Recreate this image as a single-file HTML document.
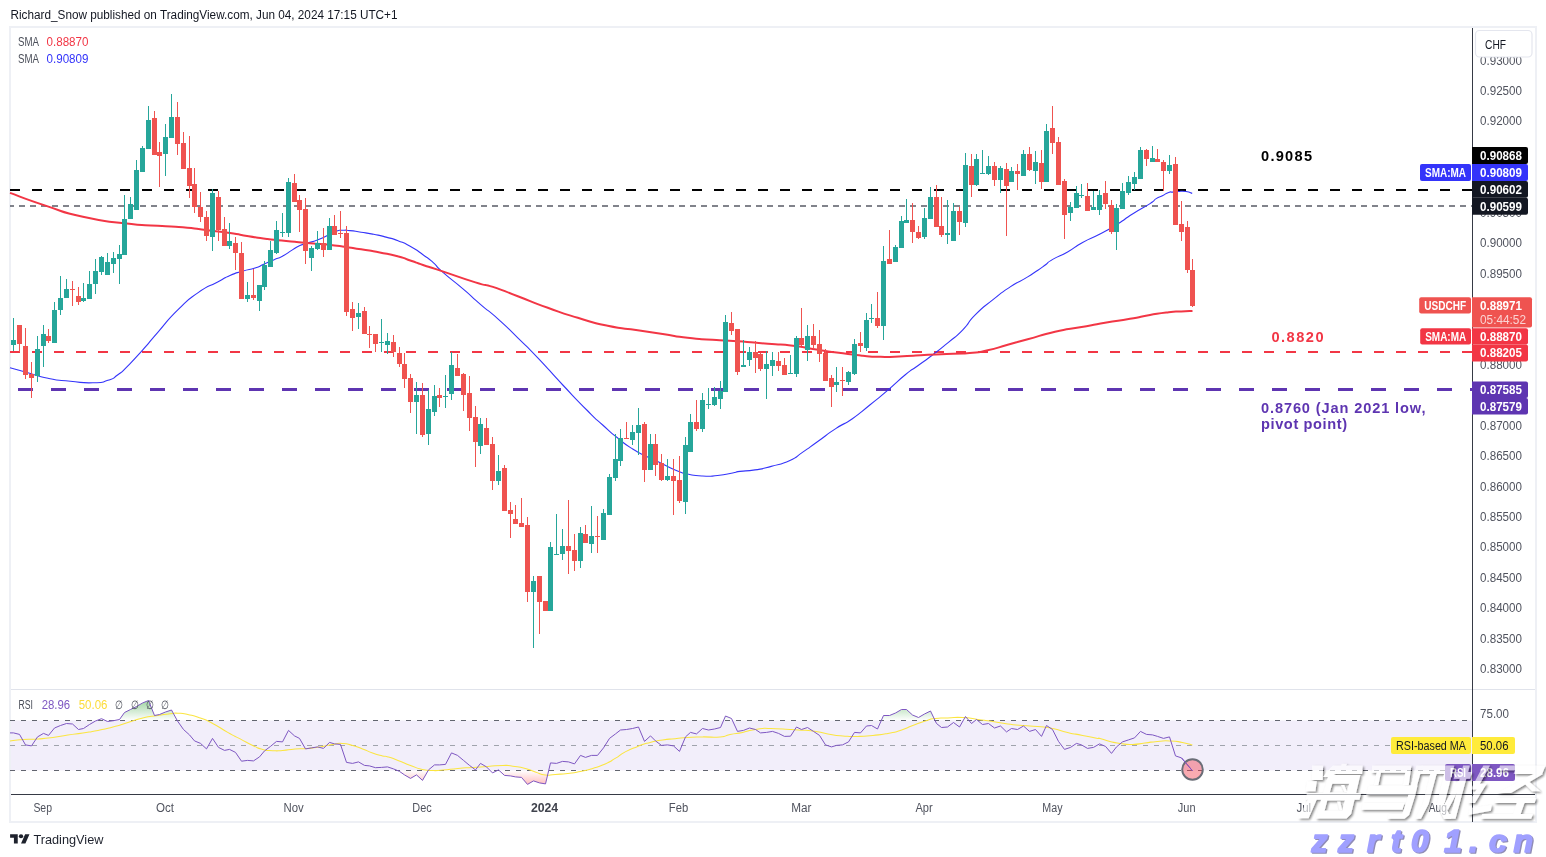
<!DOCTYPE html>
<html><head><meta charset="utf-8"><title>USDCHF</title>
<style>
html,body{margin:0;padding:0;background:#fff;}
body{width:1546px;height:857px;overflow:hidden;position:relative;font-family:"Liberation Sans",sans-serif;}
svg{position:absolute;left:0;top:0;display:block;will-change:transform;opacity:0.999}
text{font-family:"Liberation Sans",sans-serif;}
.ax{font-size:12px;fill:#50535e}
.lb{font-size:12px;fill:#fff;font-weight:bold}
</style></head><body>
<svg width="1546" height="857" viewBox="0 0 1546 857">
<defs>
<linearGradient id="gg" gradientUnits="userSpaceOnUse" x1="0" y1="683" x2="0" y2="720.5"><stop offset="0" stop-color="#4caf50" stop-opacity="1"/><stop offset="1" stop-color="#4caf50" stop-opacity="0"/></linearGradient>
<linearGradient id="rg" gradientUnits="userSpaceOnUse" x1="0" y1="770.4" x2="0" y2="807.8"><stop offset="0" stop-color="#ff5252" stop-opacity="0"/><stop offset="1" stop-color="#ff5252" stop-opacity="1"/></linearGradient>
<clipPath id="cpTop"><rect x="10" y="690" width="1462" height="30.5"/></clipPath>
<clipPath id="cpBot"><rect x="10" y="770.4" width="1462" height="24"/></clipPath>
<clipPath id="cpMain"><rect x="11" y="28" width="1461" height="661"/></clipPath>
</defs>

<text x="10.5" y="19.2" font-size="12" fill="#131722" textLength="387" lengthAdjust="spacingAndGlyphs">Richard_Snow published on TradingView.com, Jun 04, 2024 17:15 UTC+1</text>
<rect x="10" y="27" width="1526" height="795" fill="#fff" stroke="#eef0f5" stroke-width="2"/>
<rect x="11" y="689" width="1524" height="1" fill="#e0e3eb"/>
<rect x="11" y="720.5" width="1461" height="49.9" fill="#f2eefa"/>
<g shape-rendering="crispEdges">
<line x1="10" y1="720.5" x2="1472" y2="720.5" stroke="#62656f" stroke-width="1" stroke-dasharray="5 6"/>
<line x1="10" y1="745.5" x2="1472" y2="745.5" stroke="#a0a3ac" stroke-width="1" stroke-dasharray="5 6"/>
<line x1="10" y1="770.5" x2="1472" y2="770.5" stroke="#62656f" stroke-width="1" stroke-dasharray="5 6"/>
</g>
<polygon clip-path="url(#cpTop)" points="10,720.5 10.0,732.9 13.5,732.9 19.5,734.4 25.5,744.9 31.5,745.9 37.5,736.9 43.5,733.4 48.5,735.4 54.5,728.0 60.5,725.5 66.5,723.5 72.5,724.0 78.5,729.5 83.5,728.5 89.5,724.5 95.5,721.0 101.5,718.7 107.5,721.5 113.5,720.7 119.5,719.5 124.5,712.5 130.5,709.5 136.5,706.5 142.5,703.0 148.5,700.5 154.5,715.5 159.5,714.5 165.5,712.0 171.5,710.0 177.5,721.0 183.5,729.5 189.5,734.9 194.5,740.9 200.5,743.4 206.5,748.9 212.5,738.4 218.5,747.4 224.5,750.4 229.5,749.4 235.5,752.4 241.5,761.2 247.5,760.4 253.5,760.9 259.5,756.9 264.5,750.9 270.5,746.4 276.5,741.4 282.5,741.9 288.5,730.4 294.5,735.9 299.5,738.4 305.5,748.9 311.5,747.9 317.5,746.9 323.5,748.4 329.5,742.4 334.5,743.9 340.5,744.4 346.5,762.4 352.5,763.4 358.5,761.9 364.5,765.4 369.5,765.9 375.5,767.7 381.5,767.4 387.5,766.9 393.5,768.9 399.5,771.4 404.5,774.9 410.5,778.4 416.5,774.9 422.5,780.4 428.5,769.9 434.5,764.9 439.5,764.9 445.5,764.4 451.5,752.9 457.5,755.4 463.5,760.4 469.5,765.4 475.5,769.9 480.5,763.4 486.5,766.9 492.5,772.9 498.5,769.9 504.5,775.4 510.5,775.9 515.5,776.9 521.5,777.4 527.5,784.4 533.5,780.9 539.5,782.9 545.5,783.9 550.5,762.9 556.5,763.4 562.5,761.4 568.5,761.9 574.5,763.9 580.5,755.4 585.5,757.4 591.5,755.4 597.5,755.4 603.5,747.9 609.5,738.4 615.5,733.9 620.5,730.0 626.5,729.5 632.5,728.5 638.5,727.0 644.5,741.4 650.5,735.9 655.5,740.9 661.5,745.4 667.5,744.9 673.5,745.9 679.5,751.4 685.5,736.9 690.5,732.4 696.5,733.9 702.5,728.5 708.5,730.0 714.5,729.0 720.5,727.5 725.5,716.0 731.5,718.5 737.5,731.4 743.5,730.4 749.5,728.0 755.5,729.5 760.5,732.9 766.5,732.4 772.5,731.4 778.5,733.4 784.5,736.4 790.5,736.2 796.5,727.0 801.5,729.5 807.5,727.5 813.5,731.4 819.5,735.4 825.5,744.9 831.5,746.9 836.5,745.4 842.5,744.9 848.5,741.9 854.5,732.4 860.5,732.9 866.5,726.0 871.5,725.5 877.5,729.0 883.5,715.5 889.5,715.5 895.5,713.0 901.5,709.5 906.5,709.5 912.5,715.0 918.5,717.5 924.5,714.0 930.5,711.0 936.5,723.5 941.5,727.5 947.5,727.0 953.5,722.5 959.5,727.0 965.5,716.5 971.5,723.5 976.5,719.5 982.5,724.5 988.5,723.5 994.5,728.0 1000.5,726.0 1006.5,731.9 1011.5,728.5 1017.5,729.5 1023.5,726.0 1029.5,731.4 1035.5,729.5 1041.5,736.4 1046.5,725.5 1052.5,729.5 1058.5,741.4 1064.5,749.4 1070.5,747.4 1076.5,743.4 1081.5,744.9 1087.5,748.4 1093.5,747.4 1099.5,743.9 1105.5,746.4 1111.5,753.4 1116.5,746.9 1122.5,741.9 1128.5,739.9 1134.5,737.9 1140.5,731.4 1146.5,734.4 1152.5,734.9 1157.5,736.4 1163.5,738.4 1169.5,736.9 1175.5,755.9 1181.5,757.9 1187.5,764.9 1192.5,770.9 1192.5,720.5" fill="url(#gg)"/>
<polygon clip-path="url(#cpBot)" points="10,770.4 10.0,732.9 13.5,732.9 19.5,734.4 25.5,744.9 31.5,745.9 37.5,736.9 43.5,733.4 48.5,735.4 54.5,728.0 60.5,725.5 66.5,723.5 72.5,724.0 78.5,729.5 83.5,728.5 89.5,724.5 95.5,721.0 101.5,718.7 107.5,721.5 113.5,720.7 119.5,719.5 124.5,712.5 130.5,709.5 136.5,706.5 142.5,703.0 148.5,700.5 154.5,715.5 159.5,714.5 165.5,712.0 171.5,710.0 177.5,721.0 183.5,729.5 189.5,734.9 194.5,740.9 200.5,743.4 206.5,748.9 212.5,738.4 218.5,747.4 224.5,750.4 229.5,749.4 235.5,752.4 241.5,761.2 247.5,760.4 253.5,760.9 259.5,756.9 264.5,750.9 270.5,746.4 276.5,741.4 282.5,741.9 288.5,730.4 294.5,735.9 299.5,738.4 305.5,748.9 311.5,747.9 317.5,746.9 323.5,748.4 329.5,742.4 334.5,743.9 340.5,744.4 346.5,762.4 352.5,763.4 358.5,761.9 364.5,765.4 369.5,765.9 375.5,767.7 381.5,767.4 387.5,766.9 393.5,768.9 399.5,771.4 404.5,774.9 410.5,778.4 416.5,774.9 422.5,780.4 428.5,769.9 434.5,764.9 439.5,764.9 445.5,764.4 451.5,752.9 457.5,755.4 463.5,760.4 469.5,765.4 475.5,769.9 480.5,763.4 486.5,766.9 492.5,772.9 498.5,769.9 504.5,775.4 510.5,775.9 515.5,776.9 521.5,777.4 527.5,784.4 533.5,780.9 539.5,782.9 545.5,783.9 550.5,762.9 556.5,763.4 562.5,761.4 568.5,761.9 574.5,763.9 580.5,755.4 585.5,757.4 591.5,755.4 597.5,755.4 603.5,747.9 609.5,738.4 615.5,733.9 620.5,730.0 626.5,729.5 632.5,728.5 638.5,727.0 644.5,741.4 650.5,735.9 655.5,740.9 661.5,745.4 667.5,744.9 673.5,745.9 679.5,751.4 685.5,736.9 690.5,732.4 696.5,733.9 702.5,728.5 708.5,730.0 714.5,729.0 720.5,727.5 725.5,716.0 731.5,718.5 737.5,731.4 743.5,730.4 749.5,728.0 755.5,729.5 760.5,732.9 766.5,732.4 772.5,731.4 778.5,733.4 784.5,736.4 790.5,736.2 796.5,727.0 801.5,729.5 807.5,727.5 813.5,731.4 819.5,735.4 825.5,744.9 831.5,746.9 836.5,745.4 842.5,744.9 848.5,741.9 854.5,732.4 860.5,732.9 866.5,726.0 871.5,725.5 877.5,729.0 883.5,715.5 889.5,715.5 895.5,713.0 901.5,709.5 906.5,709.5 912.5,715.0 918.5,717.5 924.5,714.0 930.5,711.0 936.5,723.5 941.5,727.5 947.5,727.0 953.5,722.5 959.5,727.0 965.5,716.5 971.5,723.5 976.5,719.5 982.5,724.5 988.5,723.5 994.5,728.0 1000.5,726.0 1006.5,731.9 1011.5,728.5 1017.5,729.5 1023.5,726.0 1029.5,731.4 1035.5,729.5 1041.5,736.4 1046.5,725.5 1052.5,729.5 1058.5,741.4 1064.5,749.4 1070.5,747.4 1076.5,743.4 1081.5,744.9 1087.5,748.4 1093.5,747.4 1099.5,743.9 1105.5,746.4 1111.5,753.4 1116.5,746.9 1122.5,741.9 1128.5,739.9 1134.5,737.9 1140.5,731.4 1146.5,734.4 1152.5,734.9 1157.5,736.4 1163.5,738.4 1169.5,736.9 1175.5,755.9 1181.5,757.9 1187.5,764.9 1192.5,770.9 1192.5,770.4" fill="url(#rg)"/>
<path d="M10.0,740.9 C14.3,740.4 13.7,740.1 23.0,739.4 C32.3,738.8 28.0,739.6 38.0,738.9 C48.0,738.3 43.0,738.8 52.9,737.4 C62.9,736.1 57.9,736.4 67.9,734.9 C77.9,733.4 72.9,734.4 82.9,732.9 C92.9,731.4 87.9,732.4 97.9,730.4 C107.9,728.5 102.9,729.6 112.9,727.0 C122.9,724.3 117.9,725.5 127.9,722.5 C137.8,719.5 132.8,720.3 142.8,718.0 C152.8,715.6 148.7,716.9 157.8,715.5 C167.0,714.1 163.6,714.5 170.3,713.7 C177.0,713.0 172.0,713.0 177.8,713.2 C183.6,713.5 180.3,712.9 187.8,714.5 C195.3,716.1 191.9,715.0 200.3,718.0 C208.6,721.0 203.6,718.6 212.7,723.5 C221.9,728.3 218.6,727.3 227.7,732.4 C236.9,737.6 231.9,734.6 240.2,738.9 C248.5,743.3 245.2,741.9 252.7,745.4 C260.2,748.9 256.0,747.7 262.7,749.4 C269.3,751.2 266.0,750.3 272.7,750.7 C279.3,751.0 275.2,751.0 282.7,750.4 C290.1,749.8 286.8,749.6 295.1,748.9 C303.5,748.3 299.3,749.1 307.6,748.4 C315.9,747.8 311.8,748.3 320.1,746.9 C328.4,745.6 325.1,745.6 332.6,744.4 C340.1,743.3 335.9,743.1 342.6,743.4 C349.2,743.8 345.9,743.6 352.6,745.4 C359.2,747.3 355.9,746.4 362.6,748.9 C369.2,751.4 365.9,750.6 372.5,752.9 C379.2,755.3 377.4,754.6 382.5,755.9 C387.7,757.2 382.8,755.4 388.0,756.9 C393.2,758.4 390.5,757.6 398.0,760.4 C405.5,763.2 403.0,762.6 410.5,765.4 C418.0,768.2 413.8,767.2 420.5,768.9 C427.1,770.6 423.0,770.0 430.4,770.4 C437.9,770.8 433.8,770.8 442.9,770.1 C452.1,769.5 447.9,769.3 457.9,768.4 C467.9,767.5 462.9,768.1 472.9,767.4 C482.9,766.7 477.9,767.1 487.9,766.4 C497.9,765.7 494.5,765.5 502.9,765.4 C511.2,765.3 505.4,765.2 512.8,766.2 C520.3,767.2 517.8,766.5 525.3,768.4 C532.8,770.3 528.7,769.7 535.3,771.9 C542.0,774.1 538.6,774.1 545.3,774.9 C552.0,775.7 547.8,774.9 555.3,774.4 C562.8,773.9 559.5,774.4 567.8,773.4 C576.1,772.4 571.9,773.1 580.3,771.4 C588.6,769.7 584.4,770.9 592.7,768.4 C601.1,765.9 597.7,767.2 605.2,763.9 C612.7,760.6 608.6,762.4 615.2,758.4 C621.9,754.4 617.7,755.9 625.2,751.9 C632.7,747.9 629.4,749.6 637.7,746.4 C646.0,743.3 641.8,744.6 650.2,742.4 C658.5,740.3 654.3,741.2 662.7,739.9 C671.0,738.7 666.8,739.5 675.1,738.7 C683.5,737.9 678.5,738.0 687.6,737.4 C696.8,736.9 691.8,737.1 702.6,736.9 C713.4,736.8 710.9,737.8 720.1,736.9 C729.2,736.1 722.6,735.9 730.1,734.4 C737.6,732.9 735.1,733.9 742.6,732.4 C750.0,730.9 745.9,731.3 752.5,730.0 C759.2,728.6 757.4,729.0 762.5,728.5 C767.7,728.0 761.2,728.3 768.0,728.5 C774.8,728.6 773.0,728.5 783.0,729.0 C793.0,729.5 788.0,729.3 798.0,730.0 C808.0,730.6 803.0,729.6 812.9,730.9 C822.9,732.3 817.9,732.3 827.9,733.9 C837.9,735.6 832.9,735.1 842.9,735.9 C852.9,736.8 847.9,736.6 857.9,736.4 C867.9,736.3 862.9,736.4 872.9,735.4 C882.9,734.4 878.7,735.1 887.9,733.4 C897.0,731.8 892.0,733.1 900.3,730.4 C908.7,727.8 904.5,728.6 912.8,725.5 C921.1,722.3 917.8,723.3 925.3,721.0 C932.8,718.6 927.8,719.5 935.3,718.5 C942.8,717.5 938.6,718.3 947.8,718.0 C956.9,717.6 952.8,717.0 962.8,717.5 C972.7,718.0 967.8,718.1 977.7,719.5 C987.7,720.8 982.7,720.0 992.7,721.5 C1002.7,723.0 997.7,722.6 1007.7,724.0 C1017.7,725.3 1012.7,724.6 1022.7,725.5 C1032.7,726.3 1027.7,725.5 1037.7,726.5 C1047.7,727.5 1042.7,726.5 1052.6,728.5 C1062.6,730.4 1057.6,730.1 1067.6,732.4 C1077.6,734.8 1072.6,733.4 1082.6,735.4 C1092.6,737.4 1091.8,737.4 1097.6,738.4 C1103.4,739.4 1095.9,737.4 1100.0,738.4 C1104.1,739.4 1103.3,739.8 1110.0,741.4 C1116.6,743.1 1112.5,742.4 1120.0,743.4 C1127.5,744.4 1124.1,744.6 1132.5,744.4 C1140.8,744.3 1136.6,743.9 1144.9,742.9 C1153.3,741.9 1149.1,742.1 1157.4,741.4 C1165.8,740.8 1161.6,740.6 1169.9,740.9 C1178.2,741.3 1174.9,741.1 1182.4,742.4 C1189.9,743.8 1189.1,744.1 1192.4,744.9" fill="none" stroke="#fbe540" stroke-width="1.05" stroke-linejoin="round"/>
<polyline points="10.0,732.9 13.5,732.9 19.5,734.4 25.5,744.9 31.5,745.9 37.5,736.9 43.5,733.4 48.5,735.4 54.5,728.0 60.5,725.5 66.5,723.5 72.5,724.0 78.5,729.5 83.5,728.5 89.5,724.5 95.5,721.0 101.5,718.7 107.5,721.5 113.5,720.7 119.5,719.5 124.5,712.5 130.5,709.5 136.5,706.5 142.5,703.0 148.5,700.5 154.5,715.5 159.5,714.5 165.5,712.0 171.5,710.0 177.5,721.0 183.5,729.5 189.5,734.9 194.5,740.9 200.5,743.4 206.5,748.9 212.5,738.4 218.5,747.4 224.5,750.4 229.5,749.4 235.5,752.4 241.5,761.2 247.5,760.4 253.5,760.9 259.5,756.9 264.5,750.9 270.5,746.4 276.5,741.4 282.5,741.9 288.5,730.4 294.5,735.9 299.5,738.4 305.5,748.9 311.5,747.9 317.5,746.9 323.5,748.4 329.5,742.4 334.5,743.9 340.5,744.4 346.5,762.4 352.5,763.4 358.5,761.9 364.5,765.4 369.5,765.9 375.5,767.7 381.5,767.4 387.5,766.9 393.5,768.9 399.5,771.4 404.5,774.9 410.5,778.4 416.5,774.9 422.5,780.4 428.5,769.9 434.5,764.9 439.5,764.9 445.5,764.4 451.5,752.9 457.5,755.4 463.5,760.4 469.5,765.4 475.5,769.9 480.5,763.4 486.5,766.9 492.5,772.9 498.5,769.9 504.5,775.4 510.5,775.9 515.5,776.9 521.5,777.4 527.5,784.4 533.5,780.9 539.5,782.9 545.5,783.9 550.5,762.9 556.5,763.4 562.5,761.4 568.5,761.9 574.5,763.9 580.5,755.4 585.5,757.4 591.5,755.4 597.5,755.4 603.5,747.9 609.5,738.4 615.5,733.9 620.5,730.0 626.5,729.5 632.5,728.5 638.5,727.0 644.5,741.4 650.5,735.9 655.5,740.9 661.5,745.4 667.5,744.9 673.5,745.9 679.5,751.4 685.5,736.9 690.5,732.4 696.5,733.9 702.5,728.5 708.5,730.0 714.5,729.0 720.5,727.5 725.5,716.0 731.5,718.5 737.5,731.4 743.5,730.4 749.5,728.0 755.5,729.5 760.5,732.9 766.5,732.4 772.5,731.4 778.5,733.4 784.5,736.4 790.5,736.2 796.5,727.0 801.5,729.5 807.5,727.5 813.5,731.4 819.5,735.4 825.5,744.9 831.5,746.9 836.5,745.4 842.5,744.9 848.5,741.9 854.5,732.4 860.5,732.9 866.5,726.0 871.5,725.5 877.5,729.0 883.5,715.5 889.5,715.5 895.5,713.0 901.5,709.5 906.5,709.5 912.5,715.0 918.5,717.5 924.5,714.0 930.5,711.0 936.5,723.5 941.5,727.5 947.5,727.0 953.5,722.5 959.5,727.0 965.5,716.5 971.5,723.5 976.5,719.5 982.5,724.5 988.5,723.5 994.5,728.0 1000.5,726.0 1006.5,731.9 1011.5,728.5 1017.5,729.5 1023.5,726.0 1029.5,731.4 1035.5,729.5 1041.5,736.4 1046.5,725.5 1052.5,729.5 1058.5,741.4 1064.5,749.4 1070.5,747.4 1076.5,743.4 1081.5,744.9 1087.5,748.4 1093.5,747.4 1099.5,743.9 1105.5,746.4 1111.5,753.4 1116.5,746.9 1122.5,741.9 1128.5,739.9 1134.5,737.9 1140.5,731.4 1146.5,734.4 1152.5,734.9 1157.5,736.4 1163.5,738.4 1169.5,736.9 1175.5,755.9 1181.5,757.9 1187.5,764.9 1192.5,770.9" fill="none" stroke="#7e57c2" stroke-width="1" stroke-linejoin="round"/>
<circle cx="1192.5" cy="769.5" r="10.3" fill="#f23645" fill-opacity="0.42" stroke="#6a6d77" stroke-width="1.9"/>
<polyline points="1181.5,757.9 1187.5,764.9 1192.5,770.9" fill="none" stroke="#7e57c2" stroke-width="1"/>
<g shape-rendering="crispEdges">
<line x1="10" y1="190" x2="1472" y2="190" stroke="#000" stroke-width="2" stroke-dasharray="10 12"/>
<line x1="10" y1="352" x2="1472" y2="352" stroke="#f23645" stroke-width="2" stroke-dasharray="10 12"/>
<line x1="18" y1="389.5" x2="1472" y2="389.5" stroke="#5e35b1" stroke-width="3" stroke-dasharray="15 18"/>
</g>
<line x1="10" y1="206" x2="1472" y2="206" stroke="#585b66" stroke-width="1.4" stroke-dasharray="6 5" stroke-dashoffset="2"/>
<path d="M10.0,367.8 C16.0,369.5 15.3,369.3 28.0,372.8 C40.7,376.3 33.9,375.5 48.0,378.3 C62.1,381.1 55.4,379.8 70.4,381.3 C85.4,382.8 80.4,383.1 92.9,382.8 C105.4,382.5 99.6,383.0 107.9,380.3 C116.2,377.6 111.2,379.6 117.9,374.8 C124.6,370.0 119.6,374.1 127.9,365.8 C136.2,357.5 132.8,361.0 142.8,349.8 C152.8,338.6 146.1,345.6 157.8,332.3 C169.5,319.0 164.5,323.0 177.8,309.9 C191.1,296.8 184.5,302.2 197.8,292.9 C211.1,283.6 207.0,287.8 217.7,282.0 C228.4,276.2 221.7,279.1 230.0,275.5 C238.3,271.9 234.2,273.7 242.5,271.2 C250.8,268.7 247.9,270.3 255.0,268.0 C262.1,265.7 257.5,267.0 263.7,264.3 C269.9,261.6 267.5,262.6 273.7,259.9 C279.9,257.2 276.2,259.5 282.4,256.2 C288.6,252.9 286.6,253.4 292.4,249.9 C298.2,246.4 294.9,247.9 299.9,245.6 C304.9,243.3 301.6,245.0 307.4,243.1 C313.2,241.2 310.7,242.5 317.4,240.0 C324.1,237.5 321.2,238.5 327.4,235.6 C333.6,232.7 331.1,233.0 336.1,231.2 C341.1,229.4 337.8,230.5 342.4,230.3 C347.0,230.1 343.7,230.0 349.9,230.6 C356.1,231.2 353.2,231.0 361.1,232.2 C369.0,233.4 365.3,232.7 373.6,234.3 C381.9,235.9 377.8,234.9 386.1,237.1 C394.4,239.3 390.2,237.7 398.5,240.9 C406.8,244.1 402.8,242.2 411.0,246.8 C419.2,251.4 415.7,249.5 423.0,254.7 C430.3,259.9 426.3,256.5 433.0,262.4 C439.7,268.3 433.0,263.6 443.0,272.4 C453.0,281.2 450.5,278.3 463.0,288.9 C475.5,299.5 468.8,294.3 480.4,304.3 C492.0,314.3 485.4,307.6 497.9,318.8 C510.4,330.0 504.5,324.8 517.8,337.8 C531.1,350.8 522.8,342.1 537.8,357.8 C552.8,373.5 546.1,367.3 562.8,385.0 C579.5,402.7 574.5,397.7 587.8,411.0 C601.1,424.3 592.7,416.0 602.7,425.0 C612.7,434.0 607.7,430.0 617.7,438.0 C627.7,446.0 622.7,442.7 632.7,449.0 C642.7,455.3 637.7,452.0 647.7,457.0 C657.7,462.0 652.7,459.3 662.7,464.0 C672.7,468.7 669.3,467.7 677.6,471.0 C685.9,474.3 679.3,472.3 687.6,474.0 C695.9,475.7 692.6,475.5 702.6,476.0 C712.6,476.5 707.6,476.5 717.6,475.5 C727.6,474.5 725.1,474.4 732.6,473.0 C740.1,471.6 732.5,472.4 740.0,471.4 C747.5,470.4 744.6,471.6 755.0,469.9 C765.4,468.2 759.6,469.5 771.2,466.4 C782.8,463.3 779.5,465.2 789.9,460.5 C800.3,455.8 793.2,458.6 802.4,452.4 C811.6,446.2 806.2,449.8 817.4,441.8 C828.6,433.8 824.4,436.1 836.1,428.4 C847.8,420.7 841.2,426.5 852.4,418.7 C863.6,410.9 858.2,414.4 869.8,405.0 C881.4,395.6 875.5,400.7 887.3,390.6 C899.1,380.5 895.1,383.1 905.3,374.8 C915.5,366.5 908.6,372.5 917.8,365.8 C927.0,359.1 922.8,362.5 932.8,354.8 C942.8,347.1 937.8,351.1 947.8,342.8 C957.8,334.5 953.7,339.1 962.8,329.8 C971.9,320.5 965.2,324.9 975.2,314.9 C985.2,304.9 981.0,309.2 992.7,299.9 C1004.4,290.6 998.5,294.6 1010.2,286.9 C1021.9,279.2 1016.9,283.6 1027.7,276.9 C1038.5,270.2 1034.4,272.7 1042.7,266.9 C1051.0,261.1 1044.4,264.4 1052.7,259.4 C1061.0,254.4 1057.6,257.6 1067.6,251.9 C1077.6,246.2 1071.8,248.4 1082.6,242.4 C1093.4,236.4 1088.3,240.1 1100.0,234.0 C1111.7,227.9 1106.8,230.7 1117.6,224.0 C1128.4,217.3 1121.7,220.8 1132.5,214.0 C1143.3,207.2 1142.1,208.7 1150.0,203.6 C1157.9,198.5 1152.1,201.2 1156.2,198.6 C1160.3,196.0 1158.3,197.8 1162.4,195.7 C1166.5,193.6 1165.1,193.6 1168.6,192.4 C1172.1,191.2 1169.9,192.4 1173.0,192.1 C1176.1,191.8 1173.7,191.7 1178.0,191.5 C1182.3,191.3 1181.3,190.9 1186.0,191.5 C1190.7,192.1 1190.1,192.8 1192.2,193.4" fill="none" stroke="#3434fa" stroke-width="1.1" stroke-linejoin="round"/>
<path d="M10.0,192.9 C21.8,197.1 21.2,197.6 45.5,205.6 C69.8,213.6 56.6,210.9 82.9,216.8 C109.2,222.7 99.4,220.3 124.4,223.3 C149.4,226.3 138.3,224.5 157.8,225.8 C177.3,227.1 166.1,225.8 182.8,227.3 C199.5,228.8 192.1,228.4 207.8,230.3 C223.5,232.2 216.4,231.1 230.0,233.1 C243.6,235.1 236.2,234.2 248.7,236.2 C261.2,238.2 255.0,237.4 267.5,239.0 C280.0,240.6 273.7,239.7 286.2,240.9 C298.7,242.1 292.4,241.6 304.9,242.7 C317.4,243.8 311.1,243.1 323.6,244.3 C336.1,245.5 329.9,244.7 342.4,246.4 C354.9,248.1 348.6,247.3 361.1,249.3 C373.6,251.3 367.3,250.0 379.8,252.4 C392.3,254.8 388.1,253.7 398.5,256.5 C408.9,259.3 402.8,258.0 411.0,260.8 C419.2,263.6 413.2,261.7 423.0,265.0 C432.8,268.3 422.9,264.8 440.4,270.6 C457.9,276.4 457.9,277.0 475.4,282.4 C492.9,287.8 478.8,282.3 492.9,286.9 C507.0,291.5 499.5,289.3 517.8,296.3 C536.1,303.3 527.8,300.6 547.8,307.8 C567.8,315.0 557.8,311.8 577.8,317.8 C597.8,323.8 587.7,321.6 607.7,325.8 C627.7,330.0 619.4,327.6 637.7,330.3 C656.0,333.0 646.1,331.5 662.7,334.0 C679.3,336.5 671.0,335.9 687.6,337.8 C704.2,339.7 695.9,338.6 712.6,339.8 C729.3,341.0 719.1,340.0 737.6,341.3 C756.1,342.6 749.5,342.3 768.0,343.8 C786.5,345.3 776.3,343.8 793.0,345.8 C809.7,347.8 801.3,347.3 818.0,349.8 C834.7,352.3 828.0,351.3 843.0,353.3 C858.0,355.3 851.3,354.6 863.0,355.8 C874.7,357.0 864.7,356.6 878.0,356.8 C891.3,357.0 886.3,357.0 903.0,356.3 C919.7,355.6 911.3,355.6 928.0,354.8 C944.7,354.0 938.1,354.5 953.0,353.8 C967.9,353.1 961.1,354.0 972.7,352.8 C984.3,351.6 976.0,353.0 987.7,350.3 C999.4,347.6 994.4,348.5 1007.7,344.8 C1021.0,341.1 1011.9,343.6 1027.7,339.3 C1043.5,335.0 1037.6,335.8 1055.0,331.8 C1072.4,327.8 1063.3,330.3 1080.0,327.3 C1096.7,324.3 1088.3,325.6 1105.0,322.8 C1121.7,320.0 1115.0,321.4 1130.0,318.8 C1145.0,316.2 1137.1,317.2 1150.0,315.0 C1162.9,312.8 1158.3,313.4 1168.7,312.2 C1179.1,311.0 1173.3,311.9 1181.2,311.5 C1189.1,311.1 1188.7,311.1 1192.5,310.9" fill="none" stroke="#f23645" stroke-width="2" stroke-linejoin="round"/>
<g shape-rendering="crispEdges">
<rect x="13" y="318" width="1" height="33" fill="#26a69a"/><rect x="11" y="340" width="5" height="5" fill="#26a69a"/>
<rect x="19" y="325" width="1" height="27" fill="#ef5350"/><rect x="17" y="325" width="5" height="19" fill="#ef5350"/>
<rect x="25" y="328" width="1" height="51" fill="#ef5350"/><rect x="23" y="346" width="5" height="29" fill="#ef5350"/>
<rect x="31" y="362" width="1" height="36" fill="#ef5350"/><rect x="29" y="374" width="5" height="4" fill="#ef5350"/>
<rect x="37" y="336" width="1" height="46" fill="#26a69a"/><rect x="35" y="349" width="5" height="27" fill="#26a69a"/>
<rect x="43" y="325" width="1" height="42" fill="#26a69a"/><rect x="41" y="334" width="5" height="12" fill="#26a69a"/>
<rect x="48" y="329" width="1" height="14" fill="#ef5350"/><rect x="46" y="336" width="5" height="5" fill="#ef5350"/>
<rect x="54" y="302" width="1" height="41" fill="#26a69a"/><rect x="52" y="310" width="5" height="33" fill="#26a69a"/>
<rect x="60" y="276" width="1" height="39" fill="#26a69a"/><rect x="58" y="298" width="5" height="12" fill="#26a69a"/>
<rect x="66" y="279" width="1" height="19" fill="#26a69a"/><rect x="64" y="289" width="5" height="9" fill="#26a69a"/>
<rect x="72" y="281" width="1" height="25" fill="#ef5350"/><rect x="70" y="289" width="5" height="1" fill="#ef5350"/>
<rect x="78" y="287" width="1" height="18" fill="#ef5350"/><rect x="76" y="296" width="5" height="6" fill="#ef5350"/>
<rect x="83" y="283" width="1" height="19" fill="#26a69a"/><rect x="81" y="298" width="5" height="3" fill="#26a69a"/>
<rect x="89" y="271" width="1" height="28" fill="#26a69a"/><rect x="87" y="284" width="5" height="15" fill="#26a69a"/>
<rect x="95" y="259" width="1" height="35" fill="#26a69a"/><rect x="93" y="271" width="5" height="13" fill="#26a69a"/>
<rect x="101" y="256" width="1" height="19" fill="#26a69a"/><rect x="99" y="257" width="5" height="15" fill="#26a69a"/>
<rect x="107" y="253" width="1" height="22" fill="#26a69a"/><rect x="105" y="262" width="5" height="13" fill="#26a69a"/>
<rect x="113" y="252" width="1" height="21" fill="#26a69a"/><rect x="111" y="258" width="5" height="6" fill="#26a69a"/>
<rect x="119" y="245" width="1" height="39" fill="#26a69a"/><rect x="117" y="254" width="5" height="5" fill="#26a69a"/>
<rect x="124" y="195" width="1" height="60" fill="#26a69a"/><rect x="122" y="219" width="5" height="36" fill="#26a69a"/>
<rect x="130" y="197" width="1" height="22" fill="#26a69a"/><rect x="128" y="204" width="5" height="15" fill="#26a69a"/>
<rect x="136" y="160" width="1" height="50" fill="#26a69a"/><rect x="134" y="170" width="5" height="40" fill="#26a69a"/>
<rect x="142" y="146" width="1" height="26" fill="#26a69a"/><rect x="140" y="148" width="5" height="24" fill="#26a69a"/>
<rect x="148" y="106" width="1" height="43" fill="#26a69a"/><rect x="146" y="120" width="5" height="29" fill="#26a69a"/>
<rect x="154" y="111" width="1" height="44" fill="#ef5350"/><rect x="152" y="118" width="5" height="37" fill="#ef5350"/>
<rect x="159" y="142" width="1" height="45" fill="#ef5350"/><rect x="157" y="152" width="5" height="4" fill="#ef5350"/>
<rect x="165" y="124" width="1" height="52" fill="#26a69a"/><rect x="163" y="137" width="5" height="17" fill="#26a69a"/>
<rect x="171" y="94" width="1" height="44" fill="#26a69a"/><rect x="169" y="117" width="5" height="21" fill="#26a69a"/>
<rect x="177" y="102" width="1" height="53" fill="#ef5350"/><rect x="175" y="117" width="5" height="27" fill="#ef5350"/>
<rect x="183" y="132" width="1" height="37" fill="#ef5350"/><rect x="181" y="143" width="5" height="26" fill="#ef5350"/>
<rect x="189" y="136" width="1" height="62" fill="#ef5350"/><rect x="187" y="168" width="5" height="18" fill="#ef5350"/>
<rect x="194" y="168" width="1" height="45" fill="#ef5350"/><rect x="192" y="184" width="5" height="23" fill="#ef5350"/>
<rect x="200" y="192" width="1" height="30" fill="#ef5350"/><rect x="198" y="207" width="5" height="10" fill="#ef5350"/>
<rect x="206" y="211" width="1" height="30" fill="#ef5350"/><rect x="204" y="217" width="5" height="19" fill="#ef5350"/>
<rect x="212" y="189" width="1" height="62" fill="#26a69a"/><rect x="210" y="193" width="5" height="44" fill="#26a69a"/>
<rect x="218" y="191" width="1" height="50" fill="#ef5350"/><rect x="216" y="197" width="5" height="33" fill="#ef5350"/>
<rect x="224" y="217" width="1" height="29" fill="#ef5350"/><rect x="222" y="229" width="5" height="17" fill="#ef5350"/>
<rect x="229" y="223" width="1" height="26" fill="#26a69a"/><rect x="227" y="241" width="5" height="5" fill="#26a69a"/>
<rect x="235" y="237" width="1" height="33" fill="#ef5350"/><rect x="233" y="243" width="5" height="10" fill="#ef5350"/>
<rect x="241" y="242" width="1" height="57" fill="#ef5350"/><rect x="239" y="253" width="5" height="46" fill="#ef5350"/>
<rect x="247" y="282" width="1" height="20" fill="#26a69a"/><rect x="245" y="295" width="5" height="4" fill="#26a69a"/>
<rect x="253" y="269" width="1" height="31" fill="#ef5350"/><rect x="251" y="295" width="5" height="3" fill="#ef5350"/>
<rect x="259" y="285" width="1" height="26" fill="#26a69a"/><rect x="257" y="285" width="5" height="16" fill="#26a69a"/>
<rect x="264" y="261" width="1" height="29" fill="#26a69a"/><rect x="262" y="265" width="5" height="22" fill="#26a69a"/>
<rect x="270" y="241" width="1" height="26" fill="#26a69a"/><rect x="268" y="250" width="5" height="17" fill="#26a69a"/>
<rect x="276" y="221" width="1" height="33" fill="#26a69a"/><rect x="274" y="230" width="5" height="23" fill="#26a69a"/>
<rect x="282" y="213" width="1" height="24" fill="#26a69a"/><rect x="280" y="232" width="5" height="1" fill="#26a69a"/>
<rect x="288" y="178" width="1" height="59" fill="#26a69a"/><rect x="286" y="182" width="5" height="51" fill="#26a69a"/>
<rect x="294" y="174" width="1" height="28" fill="#ef5350"/><rect x="292" y="183" width="5" height="19" fill="#ef5350"/>
<rect x="299" y="195" width="1" height="37" fill="#ef5350"/><rect x="297" y="200" width="5" height="10" fill="#ef5350"/>
<rect x="305" y="198" width="1" height="66" fill="#ef5350"/><rect x="303" y="209" width="5" height="42" fill="#ef5350"/>
<rect x="311" y="246" width="1" height="25" fill="#26a69a"/><rect x="309" y="248" width="5" height="10" fill="#26a69a"/>
<rect x="317" y="231" width="1" height="19" fill="#26a69a"/><rect x="315" y="243" width="5" height="6" fill="#26a69a"/>
<rect x="323" y="228" width="1" height="29" fill="#ef5350"/><rect x="321" y="243" width="5" height="7" fill="#ef5350"/>
<rect x="329" y="218" width="1" height="32" fill="#26a69a"/><rect x="327" y="226" width="5" height="24" fill="#26a69a"/>
<rect x="334" y="215" width="1" height="20" fill="#ef5350"/><rect x="332" y="226" width="5" height="9" fill="#ef5350"/>
<rect x="340" y="211" width="1" height="27" fill="#ef5350"/><rect x="338" y="233" width="5" height="1" fill="#ef5350"/>
<rect x="346" y="226" width="1" height="90" fill="#ef5350"/><rect x="344" y="233" width="5" height="79" fill="#ef5350"/>
<rect x="352" y="302" width="1" height="29" fill="#ef5350"/><rect x="350" y="309" width="5" height="9" fill="#ef5350"/>
<rect x="358" y="303" width="1" height="26" fill="#26a69a"/><rect x="356" y="313" width="5" height="4" fill="#26a69a"/>
<rect x="364" y="307" width="1" height="27" fill="#ef5350"/><rect x="362" y="311" width="5" height="23" fill="#ef5350"/>
<rect x="369" y="326" width="1" height="22" fill="#ef5350"/><rect x="367" y="334" width="5" height="1" fill="#ef5350"/>
<rect x="375" y="334" width="1" height="18" fill="#ef5350"/><rect x="373" y="334" width="5" height="10" fill="#ef5350"/>
<rect x="381" y="319" width="1" height="33" fill="#26a69a"/><rect x="379" y="342" width="5" height="1" fill="#26a69a"/>
<rect x="387" y="333" width="1" height="21" fill="#26a69a"/><rect x="385" y="341" width="5" height="4" fill="#26a69a"/>
<rect x="393" y="335" width="1" height="22" fill="#ef5350"/><rect x="391" y="342" width="5" height="10" fill="#ef5350"/>
<rect x="399" y="347" width="1" height="20" fill="#ef5350"/><rect x="397" y="353" width="5" height="11" fill="#ef5350"/>
<rect x="404" y="353" width="1" height="35" fill="#ef5350"/><rect x="402" y="364" width="5" height="15" fill="#ef5350"/>
<rect x="410" y="374" width="1" height="39" fill="#ef5350"/><rect x="408" y="378" width="5" height="24" fill="#ef5350"/>
<rect x="416" y="382" width="1" height="52" fill="#26a69a"/><rect x="414" y="395" width="5" height="7" fill="#26a69a"/>
<rect x="422" y="383" width="1" height="54" fill="#ef5350"/><rect x="420" y="395" width="5" height="40" fill="#ef5350"/>
<rect x="428" y="390" width="1" height="55" fill="#26a69a"/><rect x="426" y="409" width="5" height="25" fill="#26a69a"/>
<rect x="434" y="385" width="1" height="31" fill="#26a69a"/><rect x="432" y="396" width="5" height="16" fill="#26a69a"/>
<rect x="439" y="388" width="1" height="19" fill="#ef5350"/><rect x="437" y="395" width="5" height="3" fill="#ef5350"/>
<rect x="445" y="375" width="1" height="33" fill="#26a69a"/><rect x="443" y="396" width="5" height="1" fill="#26a69a"/>
<rect x="451" y="352" width="1" height="48" fill="#26a69a"/><rect x="449" y="365" width="5" height="29" fill="#26a69a"/>
<rect x="457" y="354" width="1" height="22" fill="#ef5350"/><rect x="455" y="368" width="5" height="8" fill="#ef5350"/>
<rect x="463" y="373" width="1" height="38" fill="#ef5350"/><rect x="461" y="374" width="5" height="21" fill="#ef5350"/>
<rect x="469" y="376" width="1" height="55" fill="#ef5350"/><rect x="467" y="393" width="5" height="25" fill="#ef5350"/>
<rect x="475" y="406" width="1" height="61" fill="#ef5350"/><rect x="473" y="417" width="5" height="25" fill="#ef5350"/>
<rect x="480" y="418" width="1" height="36" fill="#26a69a"/><rect x="478" y="424" width="5" height="22" fill="#26a69a"/>
<rect x="486" y="418" width="1" height="27" fill="#ef5350"/><rect x="484" y="428" width="5" height="17" fill="#ef5350"/>
<rect x="492" y="437" width="1" height="53" fill="#ef5350"/><rect x="490" y="444" width="5" height="37" fill="#ef5350"/>
<rect x="498" y="455" width="1" height="30" fill="#26a69a"/><rect x="496" y="471" width="5" height="10" fill="#26a69a"/>
<rect x="504" y="465" width="1" height="46" fill="#ef5350"/><rect x="502" y="468" width="5" height="43" fill="#ef5350"/>
<rect x="510" y="502" width="1" height="36" fill="#ef5350"/><rect x="508" y="510" width="5" height="4" fill="#ef5350"/>
<rect x="515" y="505" width="1" height="19" fill="#ef5350"/><rect x="513" y="519" width="5" height="5" fill="#ef5350"/>
<rect x="521" y="498" width="1" height="29" fill="#ef5350"/><rect x="519" y="523" width="5" height="4" fill="#ef5350"/>
<rect x="527" y="517" width="1" height="85" fill="#ef5350"/><rect x="525" y="525" width="5" height="67" fill="#ef5350"/>
<rect x="533" y="576" width="1" height="72" fill="#26a69a"/><rect x="531" y="581" width="5" height="11" fill="#26a69a"/>
<rect x="539" y="576" width="1" height="58" fill="#ef5350"/><rect x="537" y="576" width="5" height="26" fill="#ef5350"/>
<rect x="545" y="601" width="1" height="10" fill="#ef5350"/><rect x="543" y="601" width="5" height="10" fill="#ef5350"/>
<rect x="550" y="542" width="1" height="69" fill="#26a69a"/><rect x="548" y="547" width="5" height="64" fill="#26a69a"/>
<rect x="556" y="514" width="1" height="41" fill="#26a69a"/><rect x="554" y="554" width="5" height="1" fill="#26a69a"/>
<rect x="562" y="529" width="1" height="31" fill="#26a69a"/><rect x="560" y="546" width="5" height="8" fill="#26a69a"/>
<rect x="568" y="500" width="1" height="74" fill="#ef5350"/><rect x="566" y="546" width="5" height="5" fill="#ef5350"/>
<rect x="574" y="534" width="1" height="37" fill="#ef5350"/><rect x="572" y="550" width="5" height="11" fill="#ef5350"/>
<rect x="580" y="527" width="1" height="41" fill="#26a69a"/><rect x="578" y="533" width="5" height="28" fill="#26a69a"/>
<rect x="585" y="525" width="1" height="18" fill="#ef5350"/><rect x="583" y="534" width="5" height="9" fill="#ef5350"/>
<rect x="591" y="506" width="1" height="47" fill="#26a69a"/><rect x="589" y="536" width="5" height="8" fill="#26a69a"/>
<rect x="597" y="516" width="1" height="37" fill="#ef5350"/><rect x="595" y="536" width="5" height="1" fill="#ef5350"/>
<rect x="603" y="509" width="1" height="31" fill="#26a69a"/><rect x="601" y="513" width="5" height="27" fill="#26a69a"/>
<rect x="609" y="474" width="1" height="41" fill="#26a69a"/><rect x="607" y="477" width="5" height="38" fill="#26a69a"/>
<rect x="615" y="434" width="1" height="47" fill="#26a69a"/><rect x="613" y="459" width="5" height="19" fill="#26a69a"/>
<rect x="620" y="429" width="1" height="37" fill="#26a69a"/><rect x="618" y="438" width="5" height="23" fill="#26a69a"/>
<rect x="626" y="422" width="1" height="17" fill="#ef5350"/><rect x="624" y="438" width="5" height="1" fill="#ef5350"/>
<rect x="632" y="425" width="1" height="20" fill="#26a69a"/><rect x="630" y="432" width="5" height="8" fill="#26a69a"/>
<rect x="638" y="408" width="1" height="47" fill="#26a69a"/><rect x="636" y="425" width="5" height="8" fill="#26a69a"/>
<rect x="644" y="422" width="1" height="60" fill="#ef5350"/><rect x="642" y="424" width="5" height="46" fill="#ef5350"/>
<rect x="650" y="434" width="1" height="36" fill="#26a69a"/><rect x="648" y="444" width="5" height="26" fill="#26a69a"/>
<rect x="655" y="434" width="1" height="42" fill="#ef5350"/><rect x="653" y="444" width="5" height="21" fill="#ef5350"/>
<rect x="661" y="454" width="1" height="27" fill="#ef5350"/><rect x="659" y="463" width="5" height="17" fill="#ef5350"/>
<rect x="667" y="459" width="1" height="22" fill="#26a69a"/><rect x="665" y="476" width="5" height="4" fill="#26a69a"/>
<rect x="673" y="459" width="1" height="56" fill="#ef5350"/><rect x="671" y="476" width="5" height="5" fill="#ef5350"/>
<rect x="679" y="456" width="1" height="47" fill="#ef5350"/><rect x="677" y="480" width="5" height="21" fill="#ef5350"/>
<rect x="685" y="437" width="1" height="77" fill="#26a69a"/><rect x="683" y="445" width="5" height="57" fill="#26a69a"/>
<rect x="690" y="414" width="1" height="38" fill="#26a69a"/><rect x="688" y="422" width="5" height="30" fill="#26a69a"/>
<rect x="696" y="400" width="1" height="31" fill="#ef5350"/><rect x="694" y="422" width="5" height="7" fill="#ef5350"/>
<rect x="702" y="393" width="1" height="39" fill="#26a69a"/><rect x="700" y="400" width="5" height="29" fill="#26a69a"/>
<rect x="708" y="388" width="1" height="21" fill="#26a69a"/><rect x="706" y="404" width="5" height="1" fill="#26a69a"/>
<rect x="714" y="387" width="1" height="19" fill="#26a69a"/><rect x="712" y="397" width="5" height="8" fill="#26a69a"/>
<rect x="720" y="381" width="1" height="28" fill="#26a69a"/><rect x="718" y="391" width="5" height="8" fill="#26a69a"/>
<rect x="725" y="315" width="1" height="77" fill="#26a69a"/><rect x="723" y="322" width="5" height="70" fill="#26a69a"/>
<rect x="731" y="312" width="1" height="23" fill="#ef5350"/><rect x="729" y="323" width="5" height="8" fill="#ef5350"/>
<rect x="737" y="329" width="1" height="46" fill="#ef5350"/><rect x="735" y="329" width="5" height="43" fill="#ef5350"/>
<rect x="743" y="340" width="1" height="27" fill="#26a69a"/><rect x="741" y="365" width="5" height="2" fill="#26a69a"/>
<rect x="749" y="347" width="1" height="19" fill="#26a69a"/><rect x="747" y="352" width="5" height="8" fill="#26a69a"/>
<rect x="755" y="341" width="1" height="32" fill="#ef5350"/><rect x="753" y="352" width="5" height="6" fill="#ef5350"/>
<rect x="760" y="353" width="1" height="18" fill="#ef5350"/><rect x="758" y="354" width="5" height="15" fill="#ef5350"/>
<rect x="766" y="351" width="1" height="48" fill="#26a69a"/><rect x="764" y="364" width="5" height="5" fill="#26a69a"/>
<rect x="772" y="352" width="1" height="24" fill="#26a69a"/><rect x="770" y="360" width="5" height="6" fill="#26a69a"/>
<rect x="778" y="352" width="1" height="19" fill="#ef5350"/><rect x="776" y="361" width="5" height="5" fill="#ef5350"/>
<rect x="784" y="358" width="1" height="17" fill="#ef5350"/><rect x="782" y="365" width="5" height="10" fill="#ef5350"/>
<rect x="790" y="355" width="1" height="19" fill="#26a69a"/><rect x="788" y="373" width="5" height="1" fill="#26a69a"/>
<rect x="796" y="336" width="1" height="41" fill="#26a69a"/><rect x="794" y="338" width="5" height="36" fill="#26a69a"/>
<rect x="801" y="308" width="1" height="38" fill="#ef5350"/><rect x="799" y="338" width="5" height="7" fill="#ef5350"/>
<rect x="807" y="325" width="1" height="36" fill="#26a69a"/><rect x="805" y="336" width="5" height="14" fill="#26a69a"/>
<rect x="813" y="324" width="1" height="25" fill="#ef5350"/><rect x="811" y="336" width="5" height="9" fill="#ef5350"/>
<rect x="819" y="330" width="1" height="32" fill="#ef5350"/><rect x="817" y="344" width="5" height="10" fill="#ef5350"/>
<rect x="825" y="349" width="1" height="32" fill="#ef5350"/><rect x="823" y="353" width="5" height="28" fill="#ef5350"/>
<rect x="831" y="375" width="1" height="32" fill="#ef5350"/><rect x="829" y="378" width="5" height="9" fill="#ef5350"/>
<rect x="836" y="367" width="1" height="25" fill="#26a69a"/><rect x="834" y="382" width="5" height="3" fill="#26a69a"/>
<rect x="842" y="367" width="1" height="29" fill="#ef5350"/><rect x="840" y="380" width="5" height="1" fill="#ef5350"/>
<rect x="848" y="371" width="1" height="14" fill="#26a69a"/><rect x="846" y="372" width="5" height="10" fill="#26a69a"/>
<rect x="854" y="339" width="1" height="36" fill="#26a69a"/><rect x="852" y="344" width="5" height="30" fill="#26a69a"/>
<rect x="860" y="332" width="1" height="20" fill="#ef5350"/><rect x="858" y="343" width="5" height="3" fill="#ef5350"/>
<rect x="866" y="313" width="1" height="38" fill="#26a69a"/><rect x="864" y="320" width="5" height="28" fill="#26a69a"/>
<rect x="871" y="304" width="1" height="19" fill="#26a69a"/><rect x="869" y="318" width="5" height="1" fill="#26a69a"/>
<rect x="877" y="292" width="1" height="36" fill="#ef5350"/><rect x="875" y="318" width="5" height="8" fill="#ef5350"/>
<rect x="883" y="246" width="1" height="94" fill="#26a69a"/><rect x="881" y="261" width="5" height="65" fill="#26a69a"/>
<rect x="889" y="230" width="1" height="34" fill="#ef5350"/><rect x="887" y="259" width="5" height="5" fill="#ef5350"/>
<rect x="895" y="245" width="1" height="17" fill="#26a69a"/><rect x="893" y="247" width="5" height="15" fill="#26a69a"/>
<rect x="901" y="216" width="1" height="32" fill="#26a69a"/><rect x="899" y="221" width="5" height="27" fill="#26a69a"/>
<rect x="906" y="199" width="1" height="24" fill="#26a69a"/><rect x="904" y="220" width="5" height="3" fill="#26a69a"/>
<rect x="912" y="203" width="1" height="40" fill="#ef5350"/><rect x="910" y="220" width="5" height="12" fill="#ef5350"/>
<rect x="918" y="226" width="1" height="13" fill="#ef5350"/><rect x="916" y="232" width="5" height="6" fill="#ef5350"/>
<rect x="924" y="208" width="1" height="31" fill="#26a69a"/><rect x="922" y="218" width="5" height="19" fill="#26a69a"/>
<rect x="930" y="187" width="1" height="32" fill="#26a69a"/><rect x="928" y="197" width="5" height="22" fill="#26a69a"/>
<rect x="936" y="185" width="1" height="42" fill="#ef5350"/><rect x="934" y="197" width="5" height="30" fill="#ef5350"/>
<rect x="941" y="197" width="1" height="40" fill="#ef5350"/><rect x="939" y="226" width="5" height="9" fill="#ef5350"/>
<rect x="947" y="200" width="1" height="44" fill="#26a69a"/><rect x="945" y="233" width="5" height="2" fill="#26a69a"/>
<rect x="953" y="203" width="1" height="38" fill="#26a69a"/><rect x="951" y="211" width="5" height="30" fill="#26a69a"/>
<rect x="959" y="207" width="1" height="28" fill="#ef5350"/><rect x="957" y="211" width="5" height="11" fill="#ef5350"/>
<rect x="965" y="153" width="1" height="74" fill="#26a69a"/><rect x="963" y="165" width="5" height="58" fill="#26a69a"/>
<rect x="971" y="154" width="1" height="43" fill="#ef5350"/><rect x="969" y="166" width="5" height="19" fill="#ef5350"/>
<rect x="976" y="154" width="1" height="32" fill="#26a69a"/><rect x="974" y="159" width="5" height="26" fill="#26a69a"/>
<rect x="982" y="150" width="1" height="24" fill="#26a69a"/><rect x="980" y="173" width="5" height="1" fill="#26a69a"/>
<rect x="988" y="156" width="1" height="19" fill="#26a69a"/><rect x="986" y="166" width="5" height="8" fill="#26a69a"/>
<rect x="994" y="162" width="1" height="24" fill="#ef5350"/><rect x="992" y="166" width="5" height="14" fill="#ef5350"/>
<rect x="1000" y="166" width="1" height="27" fill="#26a69a"/><rect x="998" y="168" width="5" height="12" fill="#26a69a"/>
<rect x="1006" y="163" width="1" height="73" fill="#ef5350"/><rect x="1004" y="169" width="5" height="17" fill="#ef5350"/>
<rect x="1011" y="167" width="1" height="15" fill="#26a69a"/><rect x="1009" y="171" width="5" height="11" fill="#26a69a"/>
<rect x="1017" y="164" width="1" height="26" fill="#ef5350"/><rect x="1015" y="171" width="5" height="3" fill="#ef5350"/>
<rect x="1023" y="150" width="1" height="26" fill="#26a69a"/><rect x="1021" y="154" width="5" height="22" fill="#26a69a"/>
<rect x="1029" y="147" width="1" height="24" fill="#ef5350"/><rect x="1027" y="154" width="5" height="16" fill="#ef5350"/>
<rect x="1035" y="151" width="1" height="33" fill="#26a69a"/><rect x="1033" y="162" width="5" height="9" fill="#26a69a"/>
<rect x="1041" y="150" width="1" height="39" fill="#ef5350"/><rect x="1039" y="163" width="5" height="19" fill="#ef5350"/>
<rect x="1046" y="124" width="1" height="58" fill="#26a69a"/><rect x="1044" y="131" width="5" height="51" fill="#26a69a"/>
<rect x="1052" y="106" width="1" height="48" fill="#ef5350"/><rect x="1050" y="128" width="5" height="15" fill="#ef5350"/>
<rect x="1058" y="137" width="1" height="48" fill="#ef5350"/><rect x="1056" y="142" width="5" height="43" fill="#ef5350"/>
<rect x="1064" y="179" width="1" height="60" fill="#ef5350"/><rect x="1062" y="181" width="5" height="34" fill="#ef5350"/>
<rect x="1070" y="202" width="1" height="19" fill="#26a69a"/><rect x="1068" y="207" width="5" height="6" fill="#26a69a"/>
<rect x="1076" y="186" width="1" height="22" fill="#26a69a"/><rect x="1074" y="193" width="5" height="15" fill="#26a69a"/>
<rect x="1081" y="184" width="1" height="14" fill="#26a69a"/><rect x="1079" y="195" width="5" height="1" fill="#26a69a"/>
<rect x="1087" y="183" width="1" height="28" fill="#ef5350"/><rect x="1085" y="196" width="5" height="15" fill="#ef5350"/>
<rect x="1093" y="191" width="1" height="19" fill="#26a69a"/><rect x="1091" y="207" width="5" height="3" fill="#26a69a"/>
<rect x="1099" y="190" width="1" height="25" fill="#26a69a"/><rect x="1097" y="195" width="5" height="15" fill="#26a69a"/>
<rect x="1105" y="181" width="1" height="28" fill="#ef5350"/><rect x="1103" y="193" width="5" height="11" fill="#ef5350"/>
<rect x="1111" y="200" width="1" height="34" fill="#ef5350"/><rect x="1109" y="205" width="5" height="27" fill="#ef5350"/>
<rect x="1116" y="204" width="1" height="46" fill="#26a69a"/><rect x="1114" y="208" width="5" height="24" fill="#26a69a"/>
<rect x="1122" y="183" width="1" height="26" fill="#26a69a"/><rect x="1120" y="191" width="5" height="18" fill="#26a69a"/>
<rect x="1128" y="176" width="1" height="19" fill="#26a69a"/><rect x="1126" y="182" width="5" height="11" fill="#26a69a"/>
<rect x="1134" y="172" width="1" height="18" fill="#26a69a"/><rect x="1132" y="177" width="5" height="7" fill="#26a69a"/>
<rect x="1140" y="147" width="1" height="32" fill="#26a69a"/><rect x="1138" y="150" width="5" height="29" fill="#26a69a"/>
<rect x="1146" y="149" width="1" height="17" fill="#ef5350"/><rect x="1144" y="150" width="5" height="9" fill="#ef5350"/>
<rect x="1152" y="146" width="1" height="16" fill="#26a69a"/><rect x="1150" y="158" width="5" height="4" fill="#26a69a"/>
<rect x="1157" y="149" width="1" height="13" fill="#ef5350"/><rect x="1155" y="159" width="5" height="3" fill="#ef5350"/>
<rect x="1163" y="160" width="1" height="31" fill="#ef5350"/><rect x="1161" y="162" width="5" height="9" fill="#ef5350"/>
<rect x="1169" y="155" width="1" height="19" fill="#26a69a"/><rect x="1167" y="165" width="5" height="6" fill="#26a69a"/>
<rect x="1175" y="157" width="1" height="68" fill="#ef5350"/><rect x="1173" y="164" width="5" height="61" fill="#ef5350"/>
<rect x="1181" y="201" width="1" height="40" fill="#ef5350"/><rect x="1179" y="224" width="5" height="8" fill="#ef5350"/>
<rect x="1187" y="221" width="1" height="52" fill="#ef5350"/><rect x="1185" y="227" width="5" height="43" fill="#ef5350"/>
<rect x="1192" y="259" width="1" height="48" fill="#ef5350"/><rect x="1190" y="270" width="5" height="36" fill="#ef5350"/>
</g>
<rect x="1472" y="28" width="1" height="794" fill="#363a45"/>
<rect x="11" y="794" width="1524" height="1" fill="#363a45"/>
<text class="ax" x="1480" y="64.6" textLength="42" lengthAdjust="spacingAndGlyphs">0.93000</text>
<text class="ax" x="1480" y="95.0" textLength="42" lengthAdjust="spacingAndGlyphs">0.92500</text>
<text class="ax" x="1480" y="125.4" textLength="42" lengthAdjust="spacingAndGlyphs">0.92000</text>
<text class="ax" x="1480" y="155.8" textLength="42" lengthAdjust="spacingAndGlyphs">0.91500</text>
<text class="ax" x="1480" y="186.3" textLength="42" lengthAdjust="spacingAndGlyphs">0.91000</text>
<text class="ax" x="1480" y="216.7" textLength="42" lengthAdjust="spacingAndGlyphs">0.90500</text>
<text class="ax" x="1480" y="247.1" textLength="42" lengthAdjust="spacingAndGlyphs">0.90000</text>
<text class="ax" x="1480" y="277.5" textLength="42" lengthAdjust="spacingAndGlyphs">0.89500</text>
<text class="ax" x="1480" y="307.9" textLength="42" lengthAdjust="spacingAndGlyphs">0.89000</text>
<text class="ax" x="1480" y="338.4" textLength="42" lengthAdjust="spacingAndGlyphs">0.88500</text>
<text class="ax" x="1480" y="368.8" textLength="42" lengthAdjust="spacingAndGlyphs">0.88000</text>
<text class="ax" x="1480" y="399.2" textLength="42" lengthAdjust="spacingAndGlyphs">0.87500</text>
<text class="ax" x="1480" y="429.6" textLength="42" lengthAdjust="spacingAndGlyphs">0.87000</text>
<text class="ax" x="1480" y="460.0" textLength="42" lengthAdjust="spacingAndGlyphs">0.86500</text>
<text class="ax" x="1480" y="490.5" textLength="42" lengthAdjust="spacingAndGlyphs">0.86000</text>
<text class="ax" x="1480" y="520.9" textLength="42" lengthAdjust="spacingAndGlyphs">0.85500</text>
<text class="ax" x="1480" y="551.3" textLength="42" lengthAdjust="spacingAndGlyphs">0.85000</text>
<text class="ax" x="1480" y="581.7" textLength="42" lengthAdjust="spacingAndGlyphs">0.84500</text>
<text class="ax" x="1480" y="612.1" textLength="42" lengthAdjust="spacingAndGlyphs">0.84000</text>
<text class="ax" x="1480" y="642.6" textLength="42" lengthAdjust="spacingAndGlyphs">0.83500</text>
<text class="ax" x="1480" y="673.0" textLength="42" lengthAdjust="spacingAndGlyphs">0.83000</text>
<text class="ax" x="1480" y="717.9" textLength="29" lengthAdjust="spacingAndGlyphs">75.00</text>
<rect x="1475.5" y="30.5" width="56.5" height="26.5" rx="4" fill="#fff" stroke="#e4e6ee" stroke-width="1.2"/>
<text x="1485" y="48.8" font-size="12" fill="#131722" textLength="21" lengthAdjust="spacingAndGlyphs">CHF</text>
<path d="M1472,147.1 H1526 Q1528,147.1 1528,149.1 V162.1 Q1528,164.1 1526,164.1 H1472 Z" fill="#000"/>
<text class="lb" x="1480" y="159.9" fill="#fff" textLength="42" lengthAdjust="spacingAndGlyphs" style="fill:#fff">0.90868</text>
<path d="M1472,164.1 H1526 Q1528,164.1 1528,166.1 V179.1 Q1528,181.1 1526,181.1 H1472 Z" fill="#3434fa"/>
<text class="lb" x="1480" y="176.9" fill="#fff" textLength="42" lengthAdjust="spacingAndGlyphs" style="fill:#fff">0.90809</text>
<path d="M1472,181.1 H1526 Q1528,181.1 1528,183.1 V195.8 Q1528,197.8 1526,197.8 H1472 Z" fill="#131722"/>
<text class="lb" x="1480" y="193.8" fill="#fff" textLength="42" lengthAdjust="spacingAndGlyphs" style="fill:#fff">0.90602</text>
<path d="M1472,197.8 H1526 Q1528,197.8 1528,199.8 V212.7 Q1528,214.7 1526,214.7 H1472 Z" fill="#131722"/>
<text class="lb" x="1480" y="210.6" fill="#fff" textLength="42" lengthAdjust="spacingAndGlyphs" style="fill:#fff">0.90599</text>
<rect x="1420" y="164.1" width="51" height="17.0" rx="2" fill="#3434fa"/>
<text x="1425" y="176.9" font-size="12" font-weight="bold" fill="#fff" textLength="41" lengthAdjust="spacingAndGlyphs">SMA:MA</text>
<path d="M1472,297.2 H1530 Q1532,297.2 1532,299.2 V325.6 Q1532,327.6 1530,327.6 H1472 Z" fill="#ef5350"/>
<text class="lb" x="1480" y="310" textLength="42" lengthAdjust="spacingAndGlyphs">0.88971</text>
<text x="1480" y="324" font-size="12" fill="#fff" fill-opacity="0.75" textLength="46" lengthAdjust="spacingAndGlyphs">05:44:52</text>
<rect x="1419.2" y="297.2" width="51.799999999999955" height="16.400000000000034" rx="2" fill="#ef5350"/>
<text x="1424.2" y="309.7" font-size="12" font-weight="bold" fill="#fff" textLength="42" lengthAdjust="spacingAndGlyphs">USDCHF</text>
<path d="M1472,328.2 H1526 Q1528,328.2 1528,330.2 V342.6 Q1528,344.6 1526,344.6 H1472 Z" fill="#f23645"/>
<text class="lb" x="1480" y="340.7" fill="#fff" textLength="42" lengthAdjust="spacingAndGlyphs" style="fill:#fff">0.88870</text>
<path d="M1472,344.6 H1526 Q1528,344.6 1528,346.6 V359.4 Q1528,361.4 1526,361.4 H1472 Z" fill="#f23645"/>
<text class="lb" x="1480" y="357.3" fill="#fff" textLength="42" lengthAdjust="spacingAndGlyphs" style="fill:#fff">0.88205</text>
<rect x="1420.2" y="328.2" width="50.799999999999955" height="16.400000000000034" rx="2" fill="#f23645"/>
<text x="1425.2" y="340.7" font-size="12" font-weight="bold" fill="#fff" textLength="41" lengthAdjust="spacingAndGlyphs">SMA:MA</text>
<path d="M1472,381.4 H1526 Q1528,381.4 1528,383.4 V396 Q1528,398 1526,398 H1472 Z" fill="#5e35b1"/>
<text class="lb" x="1480" y="394.0" fill="#fff" textLength="42" lengthAdjust="spacingAndGlyphs" style="fill:#fff">0.87585</text>
<path d="M1472,398 H1526 Q1528,398 1528,400 V412.4 Q1528,414.4 1526,414.4 H1472 Z" fill="#5e35b1"/>
<text class="lb" x="1480" y="410.5" fill="#fff" textLength="42" lengthAdjust="spacingAndGlyphs" style="fill:#fff">0.87579</text>
<path d="M1472,737 H1513 Q1515,737 1515,739 V752 Q1515,754 1513,754 H1472 Z" fill="#ffeb3b"/>
<text x="1480" y="749.9" font-size="12" fill="#131722" textLength="28.5" lengthAdjust="spacingAndGlyphs">50.06</text>
<rect x="1391" y="737" width="80" height="17" rx="2" fill="#ffeb3b"/>
<text x="1396" y="749.8" font-size="12" font-weight="normal" fill="#131722" textLength="70" lengthAdjust="spacingAndGlyphs">RSI-based MA</text>
<path d="M1472,764 H1513 Q1515,764 1515,766 V779 Q1515,781 1513,781 H1472 Z" fill="#7e57c2"/>
<text class="lb" x="1480" y="776.8" textLength="29" lengthAdjust="spacingAndGlyphs">28.96</text>
<rect x="1445" y="764" width="26" height="17" rx="2" fill="#7e57c2"/>
<text x="1450" y="776.8" font-size="12" font-weight="bold" fill="#fff" textLength="16" lengthAdjust="spacingAndGlyphs">RSI</text>
<text x="1261" y="161" font-size="14.6" font-weight="bold" fill="#000" textLength="51" lengthAdjust="spacing">0.9085</text>
<text x="1271.5" y="342" font-size="14.6" font-weight="bold" fill="#f23645" textLength="52" lengthAdjust="spacing">0.8820</text>
<text x="1261" y="413.3" font-size="14.6" font-weight="bold" fill="#5e35b1" textLength="164.5" lengthAdjust="spacing">0.8760 (Jan 2021 low,</text>
<text x="1261" y="429" font-size="14.6" font-weight="bold" fill="#5e35b1" textLength="86" lengthAdjust="spacing">pivot point)</text>
<text x="18" y="45.5" font-size="12" fill="#4a4e59" textLength="21" lengthAdjust="spacingAndGlyphs">SMA</text>
<text x="46.5" y="45.5" font-size="12" fill="#f23645" textLength="42" lengthAdjust="spacingAndGlyphs">0.88870</text>
<text x="18" y="62.8" font-size="12" fill="#4a4e59" textLength="21" lengthAdjust="spacingAndGlyphs">SMA</text>
<text x="46.5" y="62.8" font-size="12" fill="#3434fa" textLength="42" lengthAdjust="spacingAndGlyphs">0.90809</text>
<text x="18.5" y="709.3" font-size="12" fill="#4a4e59" textLength="14.5" lengthAdjust="spacingAndGlyphs">RSI</text>
<text x="41.7" y="709.3" font-size="12" fill="#7e57c2" textLength="28.5" lengthAdjust="spacingAndGlyphs">28.96</text>
<text x="78.7" y="709.3" font-size="12" fill="#fcdc3a" textLength="28.7" lengthAdjust="spacingAndGlyphs">50.06</text>
<text x="115.4" y="709.3" font-size="12" fill="#4a4e59" textLength="7.6" lengthAdjust="spacingAndGlyphs">&#8709;</text>
<text x="130.8" y="709.3" font-size="12" fill="#4a4e59" textLength="7.6" lengthAdjust="spacingAndGlyphs">&#8709;</text>
<text x="146" y="709.3" font-size="12" fill="#4a4e59" textLength="7.6" lengthAdjust="spacingAndGlyphs">&#8709;</text>
<text x="161.3" y="709.3" font-size="12" fill="#4a4e59" textLength="7.6" lengthAdjust="spacingAndGlyphs">&#8709;</text>
<text class="ax" x="33.4" y="812.3" textLength="18.6" lengthAdjust="spacingAndGlyphs">Sep</text>
<text class="ax" x="156.0" y="812.3" textLength="18" lengthAdjust="spacingAndGlyphs">Oct</text>
<text class="ax" x="283.6" y="812.3" textLength="20.2" lengthAdjust="spacingAndGlyphs">Nov</text>
<text class="ax" x="412.3" y="812.3" textLength="19.4" lengthAdjust="spacingAndGlyphs">Dec</text>
<text class="ax" x="668.8" y="812.3" textLength="19.4" lengthAdjust="spacingAndGlyphs">Feb</text>
<text class="ax" x="791.2" y="812.3" textLength="20.2" lengthAdjust="spacingAndGlyphs">Mar</text>
<text class="ax" x="915.4" y="812.3" textLength="17.3" lengthAdjust="spacingAndGlyphs">Apr</text>
<text class="ax" x="1042.3" y="812.3" textLength="20.2" lengthAdjust="spacingAndGlyphs">May</text>
<text class="ax" x="1177.8" y="812.3" textLength="17.7" lengthAdjust="spacingAndGlyphs">Jun</text>
<text class="ax" x="1296.4" y="812.3" textLength="14.7" lengthAdjust="spacingAndGlyphs">Jul</text>
<text class="ax" x="1428.8" y="812.3" textLength="18.1" lengthAdjust="spacingAndGlyphs">Aug</text>
<text x="530.9" y="812.3" font-size="12" font-weight="bold" fill="#40434d" textLength="27.3" lengthAdjust="spacingAndGlyphs">2024</text>
<g transform="translate(10.1,832.1) scale(0.546,0.52)" fill="#1e222d"><path d="M14 22H7V11H0V4h14v18zM28 22h-8l7.5-18h8L28 22z"/><circle cx="20" cy="8" r="4"/></g>
<text x="33.4" y="843.9" font-size="12.8" fill="#1e222d" textLength="70" lengthAdjust="spacingAndGlyphs">TradingView</text>
<defs><filter id="wsh" x="-5%" y="-10%" width="110%" height="125%"><feDropShadow dx="1.5" dy="1.5" stdDeviation="1" flood-color="#000" flood-opacity="0.8"/></filter></defs>
<g opacity="0.62" filter="url(#wsh)" fill="#fff">
<polygon points="1312.0,765.4 1323.1,765.4 1322.7,780.0 1311.6,780.0"/>
<polygon points="1306.8,781.2 1316.7,781.2 1315.5,791.3 1305.6,791.3"/>
<polygon points="1308.6,798.1 1317.4,798.1 1308.6,818.2 1298.1,818.2"/>
<polygon points="1341.8,763.7 1346.9,763.7 1346.3,765.4 1362.6,765.4 1362.1,774.1 1335.5,774.1 1329.6,777.0 1323.3,777.0 1329.6,768.6 1333.0,765.4 1341.2,765.4"/>
<polygon points="1341.2,785.0 1344.1,785.0 1347.5,792.6 1344.6,792.6"/>
<polygon points="1337.4,801.8 1340.2,801.8 1342.4,810.7 1339.6,810.7"/>
<polygon points="1372.1,765.4 1411.4,765.4 1408.7,785.4 1402.8,785.4 1405.3,772.8 1380.9,772.8 1378.3,785.4 1373.8,785.4 1376.7,772.8 1371.5,772.8"/>
<polygon points="1368.5,785.4 1417.5,785.4 1415.3,794.7 1366.2,794.7"/>
<polygon points="1408.7,794.7 1415.4,794.7 1409.1,814.9 1404.5,818.7 1387.3,818.7 1388.5,814.0 1402.4,814.0"/>
<polygon points="1362.9,803.1 1404.5,803.1 1402.4,809.8 1361.2,809.8"/>
<path fill-rule="evenodd" d="M1329.2,774.9 L1360.3,774.9 L1356.1,793.0 L1361.2,793.0 L1359.5,799.7 L1354.5,799.7 L1351.1,814.0 L1346.5,818.4 L1315.8,818.4 L1321.2,799.7 L1305.7,799.7 L1306.9,793.0 L1323.1,793.0 L1328.0,777.0 Z M1332.3,783.8 L1349.2,783.8 L1346.7,792.6 L1329.8,792.6 Z M1327.3,800.6 L1344.9,800.6 L1342.1,810.7 L1324.6,810.7 Z"/>
<polygon points="1416.4,765.4 1422.6,765.4 1412.2,803.1 1406.3,803.1"/>
<polygon points="1421.9,765.4 1454.3,765.4 1452.0,774.1 1419.8,774.1"/>
<polygon points="1430.3,774.1 1436.6,774.1 1428.6,803.9 1421.0,818.7 1415.2,818.7 1422.7,803.9"/>
<polygon points="1444.2,774.1 1452.0,774.1 1444.6,803.1 1437.0,803.1"/>
<polygon points="1436.2,803.1 1443.8,803.1 1451.3,818.7 1443.8,818.7"/>
<polygon points="1455.5,772.0 1471.9,772.0 1470.2,778.7 1453.8,778.7"/>
<polygon points="1463.1,765.4 1469.8,765.4 1455.5,818.7 1443.8,818.7 1445.0,814.0 1451.3,814.0"/>
<polygon points="1458.1,781.2 1463.1,781.2 1448.0,809.8 1441.2,809.8"/>
<polygon points="1483.3,765.4 1490.0,765.4 1479.9,783.8 1486.6,783.8 1474.9,803.1 1468.1,803.1 1476.6,789.6 1470.7,789.6"/>
<polygon points="1469.8,808.1 1491.7,804.8 1490.9,810.7 1468.1,814.9"/>
<polygon points="1500.1,765.4 1545.5,765.4 1542.2,774.1 1513.6,774.1 1515.2,770.3 1498.4,770.3"/>
<polygon points="1533.7,774.1 1543.0,774.1 1511.0,793.0 1496.7,793.0"/>
<polygon points="1522.0,781.2 1528.7,781.2 1540.5,791.3 1532.1,791.3"/>
<polygon points="1495.9,798.1 1536.3,798.1 1534.6,803.1 1494.2,803.1"/>
<polygon points="1516.9,803.1 1524.5,803.1 1520.3,814.9 1512.7,814.9"/>
<polygon points="1482.4,814.0 1532.9,814.0 1531.2,818.7 1480.8,818.7"/>
</g>
<g font-size="32" font-weight="bold" font-style="italic" fill="#a0a0ff" stroke="#a0a0ff" stroke-width="1.6" stroke-linejoin="round">
<text x="1312.7" y="852.7" fill="#908cb6" stroke="#908cb6">z</text><text x="1311.5" y="851.5">z</text>
<text x="1339.2" y="852.7" fill="#908cb6" stroke="#908cb6">z</text><text x="1338" y="851.5">z</text>
<text x="1368.2" y="852.7" fill="#908cb6" stroke="#908cb6">r</text><text x="1367" y="851.5">r</text>
<text x="1392.2" y="852.7" fill="#908cb6" stroke="#908cb6">t</text><text x="1391" y="851.5">t</text>
<text x="1412.2" y="852.7" fill="#908cb6" stroke="#908cb6">0</text><text x="1411" y="851.5">0</text>
<text x="1445.2" y="852.7" fill="#908cb6" stroke="#908cb6">1</text><text x="1444" y="851.5">1</text>
<text x="1470.2" y="852.7" fill="#908cb6" stroke="#908cb6">.</text><text x="1469" y="851.5">.</text>
<text x="1490.2" y="852.7" fill="#908cb6" stroke="#908cb6">c</text><text x="1489" y="851.5">c</text>
<text x="1514.7" y="852.7" fill="#908cb6" stroke="#908cb6">n</text><text x="1513.5" y="851.5">n</text>
</g>
</svg></body></html>
